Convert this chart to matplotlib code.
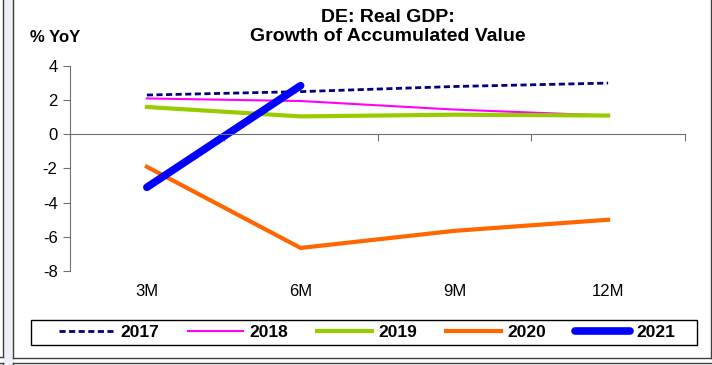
import numpy as np
import matplotlib.pyplot as plt
from matplotlib.lines import Line2D
from matplotlib.transforms import blended_transform_factory

plt.rcParams['font.family'] = ['Liberation Sans', 'DejaVu Sans']
plt.rcParams['axes.unicode_minus'] = False

# Accumulated real GDP growth, % YoY
periods = ['3M', '6M', '9M', '12M']
gdp_2017 = [2.3, 2.5, 2.8, 3.0]
gdp_2018 = [2.1, 1.95, 1.45, 1.1]
gdp_2019 = [1.6, 1.05, 1.15, 1.1]
gdp_2020 = [-1.9, -6.65, -5.65, -5.0]
gdp_2021 = [-3.1, 2.85]

W, H = 712, 365
fig = plt.figure(figsize=(W / 100, H / 100), dpi=100)

# frame lines around the chart area
def fig_line(xs, ys, color='#404040', lw=1.0):
    fig.add_artist(Line2D([x / W for x in xs], [1 - y / H for y in ys],
                          color=color, lw=lw, transform=fig.transFigure))

fig.add_artist(plt.Rectangle((3.5 / W, 0), 8.5 / W, 1, color='#eef0f7',
                             transform=fig.transFigure, zorder=-1))
fig_line([12.5, 12.5], [0, 357.5])
fig_line([12.5, 710.5], [357.5, 357.5])
fig_line([710.5, 710.5], [0, 357.5])
fig_line([3, 3], [0, 357])
fig_line([0, 3], [357, 357])
fig_line([0, 3], [362.5, 362.5])
fig_line([3, 3], [362.5, 365])
fig_line([12.5, 712], [362.5, 362.5])
fig_line([12.5, 12.5], [362.5, 365])

ax = fig.add_axes([70 / W, 1 - 271 / H, 615 / W, 205 / H])
x = np.arange(len(periods))

ax.plot(x, gdp_2017, color='#000080', lw=2, ls=(0, (2.2, 1.25)), label='2017')
ax.plot(x, gdp_2018, color='#ff00ff', lw=1.5, label='2018')
ax.plot(x, gdp_2019, color='#99cc00', lw=3, label='2019')
ax.plot(x, gdp_2020, color='#ff6600', lw=3, label='2020')
ax.plot(x[:len(gdp_2021)], gdp_2021, color='#0000ff', lw=5.5,
        solid_capstyle='round', label='2021')

ax.set_xlim(-0.5, len(periods) - 0.5)
ax.set_ylim(-8, 4)
ax.set_yticks(np.arange(-8, 5, 2))
ax.tick_params(axis='y', direction='out', length=5, color='#707070',
               labelsize=12, pad=4)

# category axis sits at zero, ticks between categories
ax.spines['bottom'].set_position(('data', 0))
ax.set_xticks(np.arange(-0.5, len(periods), 1.0))
ax.set_xticklabels([])
ax.tick_params(axis='x', direction='out', length=5, color='#707070')
for s in ['top', 'right']:
    ax.spines[s].set_visible(False)
for s in ['left', 'bottom']:
    ax.spines[s].set_color('#707070')

trans = blended_transform_factory(ax.transData, ax.transAxes)
for i, p in enumerate(periods):
    ax.text(i, -0.102, p, transform=trans, ha='center', va='center', fontsize=12)

fig.text(388 / W, 1 - 27 / H, 'DE: Real GDP:\nGrowth of Accumulated Value',
         ha='center', va='center', fontsize=14, fontweight='bold', linespacing=1.18)
fig.text(55 / W, 1 - 38 / H, '% YoY', ha='center', va='center',
         fontsize=12, fontweight='bold')

# legend frame spans the chart width, entries centred inside it
fig.add_artist(plt.Rectangle((30.5 / W, 1 - 345 / H), 666 / W, 25 / H,
                             fill=False, edgecolor='black', lw=1,
                             transform=fig.transFigure))
fig.legend(loc='center', bbox_to_anchor=(367 / W, 1 - 332.5 / H),
           ncol=5, frameon=False, prop={'weight': 'bold', 'size': 12.5},
           handlelength=3.2, handletextpad=0.35, columnspacing=1.65,
           borderaxespad=0, borderpad=0)

fig.savefig('out.png', dpi=100)
